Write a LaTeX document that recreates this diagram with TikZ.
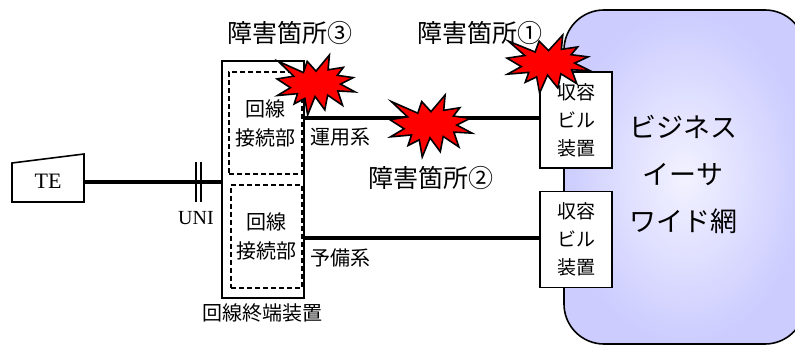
\documentclass[tikz,border=0pt]{standalone}
\usepackage{fontspec}
\setmainfont{Liberation Serif}
\newfontfamily\jp{Noto Sans CJK JP}
\usetikzlibrary{calc}
\definecolor{lav}{RGB}{204,204,255}
\definecolor{lavin}{RGB}{242,242,255}
\definecolor{boomred}{RGB}{255,0,0}
\tikzset{
  frame/.style={draw, line width=1.6pt, inner sep=0pt, fill=white},
  dashbox/.style={draw, line width=1.1pt, dash pattern=on 5pt off 3pt, inner sep=0pt, align=center},
  fat/.style={line width=4pt},
  bar/.style={line width=2pt},
  jtext/.style={font=\jp\fontsize{20}{29}\selectfont, align=center, inner sep=0pt},
  jbig/.style={font=\jp\fontsize{25}{30}\selectfont, inner sep=0pt},
  boomstyle/.style={draw, fill=boomred, line width=1.6pt, line join=miter},
  boom/.pic={\path[boomstyle] (0.500,0.269) -- (0.672,0) -- (0.655,0.247) -- (0.851,0.206) -- (0.773,0.339) -- (0.977,0.377) -- (0.815,0.485) -- (1,0.615) -- (0.779,0.599) -- (0.840,0.838) -- (0.649,0.669) -- (0.613,0.914) -- (0.488,0.691) -- (0.393,1) -- (0.357,0.723) -- (0.220,0.815) -- (0.262,0.645) -- (0.006,0.675) -- (0.172,0.545) -- (0,0.399) -- (0.214,0.353) -- (0.017,0.106) -- (0.339,0.293) -- (0.387,0.106) -- cycle;}
}
\begin{document}
\begin{tikzpicture}[x=1pt,y=-1pt]
\useasboundingbox (0,0) rectangle (795,345);
\begin{scope}
\clip (0,0) rectangle (795,345);
% network cloud
\node[draw, line width=1.6pt, rounded corners=40pt, minimum width=241pt, minimum height=334pt,
      inner sep=0pt, shading=radial, inner color=lavin, outer color=lav] (net) at (684.5,177) {};
\end{scope}
\node[font=\jp\fontsize{27}{47}\selectfont, align=center, inner sep=0pt] (nettext) at (683,174)
  {ビジネス\\イーサ\\ワイド網};
% building boxes
\node[frame, minimum width=72pt, minimum height=96pt, jtext, font=\jp\fontsize{19}{28}\selectfont] (bldg1) at (576,120) {収容\\ビル\\装置};
\node[frame, minimum width=72pt, minimum height=96pt, jtext, font=\jp\fontsize{19}{28}\selectfont] (bldg2) at (576,239.5) {収容\\ビル\\装置};
% line termination unit
\node[frame, minimum width=82pt, minimum height=237pt] (ntu) at (263,179.5) {};
\node[dashbox, minimum width=73pt, minimum height=102pt, jtext] (dash1) at (265.5,123) {回線\\接続部};
\node[dashbox, minimum width=71pt, minimum height=103pt, jtext] (dash2) at (266.5,236.5) {回線\\接続部};
\node[jtext] (ntulabel) at (262,313) {回線終端装置};
% TE
\draw[line width=1.6pt] (12,202) -- (84,202) -- (84,154) -- (12,163) -- cycle;
\node[font=\fontsize{22}{24}\selectfont, inner sep=0pt] (te) at (48,181) {TE};
\coordinate (teE) at (84,182);
\draw[fat] (teE) -- (ntu.west |- teE);
\coordinate (uni) at (198.5,182);
\draw[bar] ($(uni)+(-2.7,-20)$) -- ($(uni)+(-2.7,20)$);
\draw[bar] ($(uni)+(2.7,-20)$) -- ($(uni)+(2.7,20)$);
\node[font=\fontsize{20}{22}\selectfont, inner sep=0pt] (unilabel) at (196,218) {UNI};
% links
\coordinate (l1) at (0,118);
\coordinate (l2) at (0,238);
\draw[fat] (ntu.east |- l1) -- (bldg1.west |- l1);
\draw[fat] (ntu.east |- l2) -- (bldg2.west |- l2);
\node[jtext] (act) at (340,137) {運用系};
\node[jtext] (stby) at (340,258) {予備系};
% fault labels
\node[jbig] (f3) at (290,33) {障害箇所③};
\node[jbig] (f1) at (480,33) {障害箇所①};
\node[jbig] (f2) at (431,178) {障害箇所②};
% explosions
\pic[xscale=78, yscale=60] at (277,55) {boom};
\pic[xscale=82, yscale=62] at (390,95) {boom};
\pic[xscale=83, yscale=58] at (507,35) {boom};
\end{tikzpicture}
\end{document}
